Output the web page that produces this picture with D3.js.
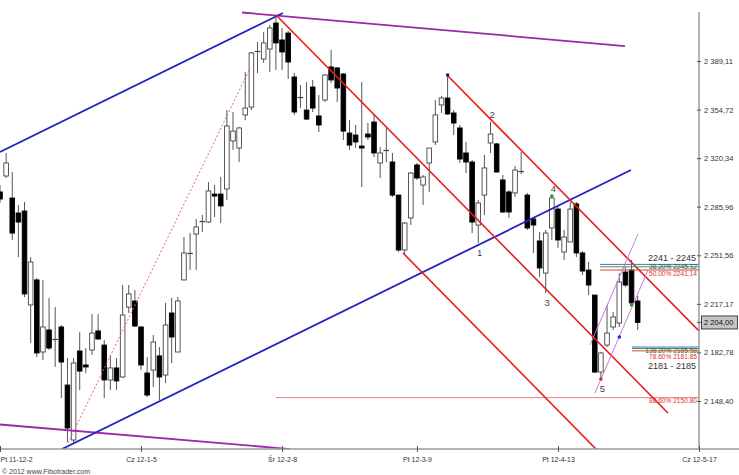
<!DOCTYPE html>
<html><head><meta charset="utf-8">
<script src="https://cdn.jsdelivr.net/npm/d3@7"></script>
<style>body{margin:0;background:#fff}svg{display:block}text{font-family:"Liberation Sans",Arial,sans-serif}</style>
</head><body><svg id="c" width="739" height="475"></svg>
<script>
// ---- data (WIG20 daily) ----
const open=[2296.4,2307.7,2292.1,2281.5,2282.9,2216.4,2234.1,2183.1,2198.7,2192.3,2200.8,2159.7,2120.8,2183.8,2173.9,2184.5,2198.0,2188.0,2163.3,2171.8,2165.4,2214.9,2219.2,2200.8,2168.2,2170.3,2180.3,2166.8,2210.7,2183.1,2234.1,2253.2,2266.6,2275.1,2275.1,2294.9,2294.9,2298.5,2332.5,2327.5,2350.9,2356.5,2396.2,2390.5,2397.6,2416.0,2404.0,2408.9,2377.8,2363.6,2354.4,2370.7,2350.2,2361.5,2384.9,2384.2,2379.9,2338.1,2336.7,2328.9,2337.4,2345.9,2316.9,2326.1,2317.6,2294.2,2255.3,2278.0,2315.5,2301.3,2316.9,2331.8,2358.0,2362.9,2352.3,2341.7,2324.0,2317.6,2273.0,2294.2,2331.1,2330.4,2304.9,2296.4,2295.7,2311.2,2294.2,2277.3,2261.7,2239.0,2270.9,2284.3,2253.9,2261.0,2287.9,2253.2,2241.1,2223.4,2168.9,2188.0,2200.8,2203.6,2239.7,2241.1,2219.2];
const high=[2301.3,2324.0,2310.5,2287.2,2289.3,2250.3,2235.5,2234.1,2221.3,2214.9,2202.2,2178.8,2178.8,2197.2,2185.9,2210.0,2210.0,2191.6,2181.0,2178.8,2230.5,2230.5,2227.0,2201.5,2179.5,2195.1,2186.6,2217.8,2221.3,2222.0,2264.5,2267.3,2277.3,2280.1,2303.4,2301.3,2307.0,2354.4,2353.0,2342.4,2381.3,2395.5,2402.6,2409.6,2414.6,2421.7,2412.5,2410.4,2380.6,2372.1,2374.2,2375.7,2365.0,2379.9,2396.9,2384.9,2380.6,2347.3,2343.8,2374.2,2345.2,2350.9,2328.2,2341.7,2324.0,2294.2,2275.1,2310.5,2316.9,2308.4,2327.5,2361.5,2364.3,2379.2,2354.4,2343.8,2331.8,2319.0,2290.7,2322.6,2345.9,2331.1,2308.4,2297.8,2314.8,2324.7,2295.7,2278.0,2268.0,2269.5,2293.5,2286.5,2269.5,2289.3,2289.3,2254.6,2246.8,2223.4,2183.1,2216.4,2211.4,2239.0,2243.3,2248.2,2222.7];
const low=[2288.6,2306.3,2262.4,2250.3,2222.0,2189.5,2179.5,2177.4,2184.5,2172.5,2150.5,2119.4,2118.0,2156.2,2168.2,2181.0,2191.6,2150.5,2156.2,2156.2,2164.7,2210.7,2200.8,2170.3,2151.2,2158.3,2149.1,2161.1,2175.3,2183.1,2234.1,2241.1,2241.1,2268.0,2274.4,2278.7,2274.4,2290.7,2326.1,2317.6,2347.3,2354.4,2380.6,2387.7,2381.3,2382.7,2382.7,2376.4,2350.9,2355.8,2347.3,2353.0,2338.8,2360.1,2373.5,2360.1,2333.2,2326.1,2327.5,2299.9,2333.2,2321.1,2306.3,2317.6,2292.8,2253.9,2252.5,2273.0,2304.9,2287.2,2296.4,2329.6,2352.3,2350.9,2336.7,2316.9,2309.8,2267.3,2260.3,2280.1,2324.0,2310.5,2281.5,2278.0,2292.8,2309.1,2269.5,2253.2,2236.2,2224.9,2262.4,2256.7,2248.2,2261.0,2250.3,2237.6,2223.4,2168.2,2164.0,2186.6,2198.7,2200.8,2229.1,2216.4,2198.7];
const close=[2291.4,2316.9,2267.3,2275.1,2224.2,2246.8,2182.4,2200.8,2185.9,2191.6,2176.0,2129.3,2175.3,2169.6,2172.5,2196.5,2192.3,2163.3,2171.8,2162.6,2209.3,2224.2,2201.5,2173.9,2152.6,2190.2,2165.4,2202.2,2193.7,2219.2,2253.2,2252.5,2271.6,2275.8,2297.1,2293.5,2286.5,2343.1,2339.5,2341.7,2355.8,2394.8,2395.5,2401.9,2412.5,2401.9,2395.5,2388.4,2353.0,2362.9,2348.0,2355.8,2343.8,2379.2,2375.7,2370.0,2339.5,2329.6,2331.8,2327.5,2335.3,2324.0,2324.0,2325.4,2294.2,2255.3,2274.4,2309.8,2306.3,2307.0,2327.5,2350.9,2362.9,2351.6,2345.2,2319.7,2317.6,2275.1,2288.6,2313.4,2337.4,2310.5,2282.2,2282.2,2311.9,2310.5,2270.9,2273.0,2242.6,2267.3,2292.1,2262.4,2264.5,2284.3,2253.2,2240.4,2230.5,2168.9,2182.4,2196.5,2207.9,2232.6,2230.5,2217.8,2204.0];
const xTickIdx=[0,23,46,68,91,114];
const xTickLabels=["Pt 11-12-2","Cz 12-1-5","Śr 12-2-8","Pt 12-3-9","Pt 12-4-13","Cz 12-5-17"];
const yTicks=[2389.11,2354.72,2320.34,2285.96,2251.56,2217.17,2182.78,2148.40];
const lastPrice=2204.00;
// trend lines: [index1, price1, index2, price2]
const blueLines=[[0,2324.7,46.15,2423.1],[10.11,2114.4,102.91,2311.9]];
const purpleLines=[[39.47,2423.45,101.93,2399.7],[0,2131.75,47.3,2114.4]];
const redLines=[[45.01,2421.7,108.94,2139.9],[72.9,2379.2,114,2198.0],[65.72,2253.2,97.2,2114.4]];
const magentaLines=[[96.22,2188.0,104.05,2266.6],[97.04,2154.1,105.68,2241.1]];
const dashedLine=[11.1,2118.7,40.8,2384.2];
const fibUpperStart=97.85, fibUpperLevels=[2245.12,2243.4,2241.14];
const fibLowerStart=103.07, fibLowerLevels=[2186.6,2185.58,2183.9];
const fibLabels=[["38.20% 2245.12",2245.12,"#2f5f4f",4.6],["50.00% 2241.14",2241.14,"#e03030",6.4],["138.20% 2185.58",2185.58,"#2f6a2f",4.4],["78.60% 2181.85",2181.85,"#e03030",5.6],["88.60% 2150.80",2150.80,"#e03030",5.7]];
const zoneLabels=[["2241 - 2245",2245.12,"up"],["2181 - 2185",2181.85,"down"]];
const level886=[45.0,2150.80];
const waveLabels=[["1",78,"below"],["2",80,"above"],["3",89,"below"],["4",90,"above"],["5",98,"below"]];
const dots=[[73,2379.2,"#1a1a90"],[90,2293.5,"#2a9a2a"],[98,2164.0,"#e02020"],[101,2193.7,"#2030c0"],[103,2216.4,"#2a9a2a"]];

// ---- drawing ----
const svg=d3.select("#c");
const W=739,H=475, axisX=699, axisY=449;
const x=d3.scaleLinear().domain([0,114]).range([0,axisX]);
const y=d3.scaleLinear().domain([2148.40,2389.11]).range([401,61]);
const loc=d3.formatLocale({decimal:",",thousands:" ",grouping:[3],currency:["",""]});
const fmt=loc.format(",.2f");

svg.append("defs").append("clipPath").attr("id","plot").append("rect").attr("x",0).attr("y",0).attr("width",axisX).attr("height",axisY);
const g=svg.append("g").attr("clip-path","url(#plot)");

// candles
const bw=4.6;
const idx=d3.range(open.length);
const cg=g.append("g");
idx.forEach(i=>{
  const cx=x(i), o=y(open[i]), c=y(close[i]), h=y(high[i]), l=y(low[i]);
  cg.append("line").attr("x1",cx).attr("x2",cx).attr("y1",h).attr("y2",l).attr("stroke","#555").attr("stroke-width",1);
  const top=Math.min(o,c), bh=Math.abs(o-c);
  if(bh<1.2){
    cg.append("line").attr("x1",cx-bw/2-0.5).attr("x2",cx+bw/2+0.5).attr("y1",(o+c)/2).attr("y2",(o+c)/2).attr("stroke","#444").attr("stroke-width",1.2);
  } else {
    const up=close[i]>open[i];
    cg.append("rect").attr("x",cx-bw/2).attr("y",top).attr("width",bw).attr("height",bh)
      .attr("fill",up?"#fff":"#000").attr("stroke",up?"#444":"#000").attr("stroke-width",0.9);
  }
});

function seg(arr,color,w,dash){
  return g.append("line").attr("x1",x(arr[0])).attr("y1",y(arr[1])).attr("x2",x(arr[2])).attr("y2",y(arr[3]))
    .attr("stroke",color).attr("stroke-width",w).attr("stroke-dasharray",dash||null);
}
seg([level886[0],level886[1],114,level886[1]],"#f07f7f",1);
seg(dashedLine,"#e06a6a",1,"2,2");
purpleLines.forEach(l=>seg(l,"#9a2aa8",1.8));
blueLines.forEach(l=>seg(l,"#2222c0",1.8));
redLines.forEach(l=>seg(l,"#e81c1c",1.6));
magentaLines.forEach(l=>seg(l,"#cc77e6",1));
const fibCols=["#4a6ad8","#3aa03a","#e03a3a"];
fibUpperLevels.forEach((p,k)=>seg([fibUpperStart,p,114,p],fibCols[k],1));
fibLowerLevels.forEach((p,k)=>seg([fibLowerStart,p,114,p],fibCols[k],1));

dots.forEach(d=>g.append("circle").attr("cx",x(d[0])).attr("cy",y(d[1])).attr("r",1.8).attr("fill",d[2]));

waveLabels.forEach(w=>{
  const i=w[1];
  const yy=w[2]==="below"?y(low[i])+13:y(high[i])-4.5;
  svg.append("text").attr("x",x(i)+1.5).attr("y",yy).attr("text-anchor","middle").attr("font-size",9.5).attr("fill","#444").text(w[0]);
});

fibLabels.forEach(f=>{
  svg.append("text").attr("x",697).attr("y",y(f[1])+f[3]).attr("text-anchor","end").attr("font-size",6.6).attr("fill",f[2]).text(f[0]);
});
zoneLabels.forEach(z=>{
  const yy=z[2]==="up"?y(z[1])-3.2:y(z[1])+15;
  svg.append("text").attr("x",696).attr("y",yy).attr("text-anchor","end").attr("font-size",9).attr("fill","#333").text(z[0]);
});

// axes
svg.append("line").attr("x1",0).attr("x2",W).attr("y1",axisY).attr("y2",axisY).attr("stroke","#9a9a9a").attr("stroke-width",1.6);
svg.append("line").attr("x1",axisX).attr("x2",axisX).attr("y1",12).attr("y2",axisY).attr("stroke","#8a8a8a").attr("stroke-width",1.3);

const ya=svg.append("g").attr("transform",`translate(${axisX},0)`)
  .call(d3.axisRight(y).tickValues(yTicks).tickSize(2).tickPadding(3).tickFormat(fmt));
ya.select(".domain").remove();
ya.selectAll(".tick line").attr("x1",-2).attr("stroke","#555");
ya.selectAll(".tick text").attr("font-size",7.6).attr("fill","#333").attr("font-family","Liberation Sans, Arial, sans-serif");

const xa=svg.append("g").attr("transform",`translate(0,${axisY})`)
  .call(d3.axisBottom(x).tickValues(xTickIdx).tickSize(3).tickPadding(5).tickFormat((d,i)=>xTickLabels[i]));
xa.select(".domain").remove();
xa.selectAll(".tick line").attr("y1",-3).attr("stroke","#555");
xa.selectAll(".tick text").attr("font-size",7).attr("fill","#333").attr("font-family","Liberation Sans, Arial, sans-serif")
  .attr("text-anchor",(d,i)=>i===0?"start":"middle");

const ly=y(lastPrice);
svg.append("line").attr("x1",axisX-2).attr("x2",axisX+2).attr("y1",ly).attr("y2",ly).attr("stroke","#555");
svg.append("rect").attr("x",701.5).attr("y",ly-6.5).attr("width",36).attr("height",13).attr("fill","#c4c4c4").attr("stroke","#333").attr("stroke-width",0.9);
svg.append("text").attr("x",704).attr("y",ly+2.7).attr("font-size",7.6).attr("fill","#111").text(fmt(lastPrice));

svg.append("text").attr("x",2).attr("y",474).attr("font-size",7).attr("fill","#444").text("© 2012 www.Fibotrader.com");
</script></body></html>
